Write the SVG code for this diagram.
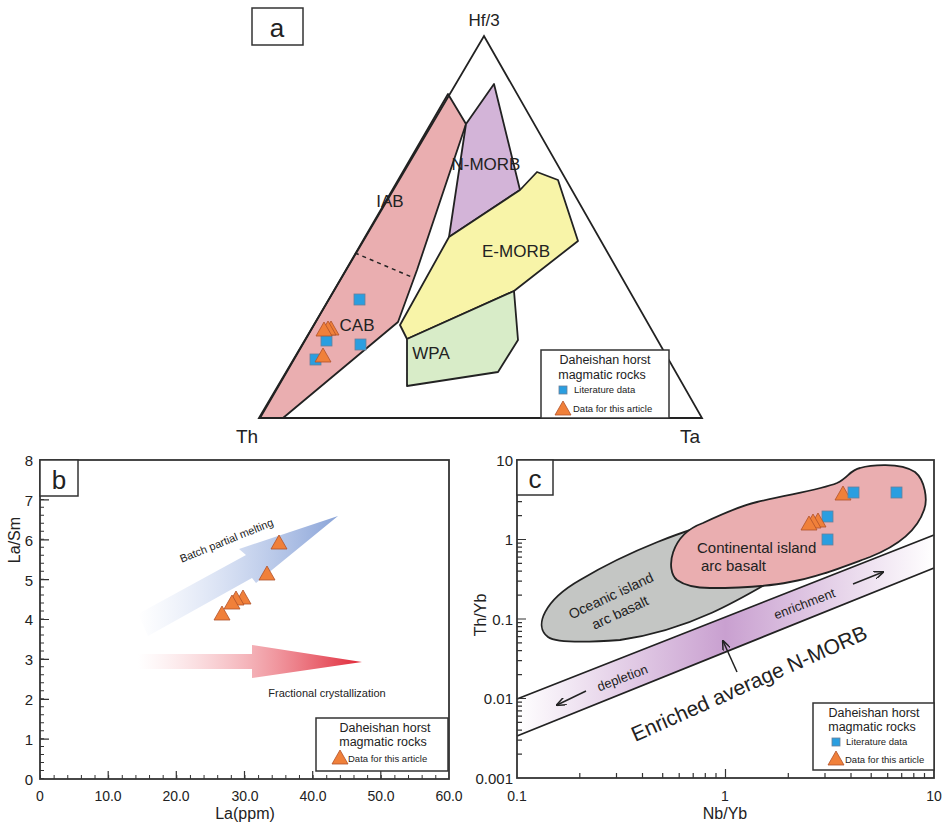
<svg xmlns="http://www.w3.org/2000/svg" width="948" height="823" viewBox="0 0 948 823">
<defs>
<style>
text{font-family:"Liberation Sans",Arial,sans-serif;fill:#222}
.reg{stroke:#222;stroke-width:1.8;stroke-linejoin:round}
.fr{fill:none;stroke:#333;stroke-width:1.8}
.sq{fill:#2a9ee0;stroke:#6a7f9a;stroke-width:0.8}
.tr{fill:#f0803a;stroke:#b0502a;stroke-width:0.8}
.lg{fill:#fff;stroke:#333;stroke-width:1.5}
.tk{stroke:#333;stroke-width:1.2;fill:none}
</style>
<linearGradient id="gb" x1="0" y1="0" x2="1" y2="0"><stop offset="0" stop-color="#b8c8ec" stop-opacity="0"/><stop offset="1" stop-color="#8aa4d8"/></linearGradient>
<linearGradient id="gr" x1="0" y1="0" x2="1" y2="0"><stop offset="0" stop-color="#f2a0a8" stop-opacity="0"/><stop offset="1" stop-color="#e02838"/></linearGradient>
<linearGradient id="gp" gradientUnits="userSpaceOnUse" x1="517" y1="0" x2="934" y2="0"><stop offset="0" stop-color="#c9a0d0" stop-opacity="0"/><stop offset="0.5" stop-color="#c9a0d0"/><stop offset="1" stop-color="#c9a0d0" stop-opacity="0"/></linearGradient>
<marker id="ah" markerWidth="10" markerHeight="8" refX="9" refY="4" orient="auto" markerUnits="userSpaceOnUse"><path d="M0,0 L10,4 L0,8" fill="none" stroke="#222" stroke-width="1.5"/></marker>
<symbol id="tri" overflow="visible"><path d="M0,-8 L8,6 L-8,6 Z"/></symbol>
</defs>
<rect width="948" height="823" fill="#fff"/>

<!-- Panel a -->
<g id="panel-a">
<rect x="252" y="8" width="51" height="37" class="lg"/>
<text x="277" y="37" font-size="26" text-anchor="middle">a</text>
<text x="484" y="26" font-size="17" text-anchor="middle">Hf/3</text>
<text x="247" y="443" font-size="19" text-anchor="middle">Th</text>
<text x="690" y="443" font-size="19" text-anchor="middle">Ta</text>
<g id="IAB-CAB"><path class="reg" fill="#eaaeb0" d="M260,418 L448,94 L466,124 L417,270 L398,322 L283,418 Z"/>
<line x1="355" y1="253" x2="414" y2="278" stroke="#222" stroke-width="1.5" stroke-dasharray="4,4"/>
<text x="390" y="207" font-size="17" text-anchor="middle">IAB</text>
<text x="357" y="331" font-size="17" text-anchor="middle">CAB</text></g>
<g id="N-MORB"><path class="reg" fill="#d3b4d8" d="M466,124 L494,84 L520,190 L449,237 Z"/>
<text x="486" y="170" font-size="17" text-anchor="middle">N-MORB</text></g>
<g id="E-MORB"><path class="reg" fill="#f8f4a8" d="M449,237 L520,190 L537,172 L558,180 L578,241 L514,291 L407,339 L400,325 Z"/>
<text x="516" y="257" font-size="17" text-anchor="middle">E-MORB</text></g>
<g id="WPA"><path class="reg" fill="#d8ecc8" d="M407,339 L514,291 L518,340 L498,372 L407,386 Z"/>
<text x="431" y="359" font-size="17" text-anchor="middle">WPA</text></g>
<path d="M259,418 L484,36 L702,418 Z" fill="none" stroke="#222" stroke-width="1.8"/>
<g id="data-a">
<rect x="354" y="294" width="11" height="11" class="sq"/>
<rect x="321" y="335" width="11" height="11" class="sq"/>
<rect x="355" y="339" width="11" height="11" class="sq"/>
<rect x="310" y="354" width="11" height="11" class="sq"/>
<use href="#tri" x="331" y="329" class="tr"/><use href="#tri" x="328" y="329" class="tr"/><use href="#tri" x="324" y="330" class="tr"/>
<use href="#tri" x="323" y="356" class="tr"/>
</g>
<g id="legend-a"><rect x="541" y="350" width="128" height="68" class="lg"/>
<text x="605" y="364" font-size="12.5" text-anchor="middle">Daheishan horst</text>
<text x="602" y="379" font-size="12.5" text-anchor="middle">magmatic rocks</text>
<rect x="559" y="386" width="8" height="8" class="sq" fill="#5ab4e8"/>
<text x="574" y="393" font-size="9.5">Literature data</text>
<use href="#tri" x="563" y="409" class="tr"/>
<text x="573" y="412" font-size="9.5">Data for this article</text></g>
</g>

<!-- Panel b -->
<g id="panel-b">
<rect x="40" y="460" width="409" height="319" class="fr"/>
<line x1="42" y1="779" x2="42" y2="460" stroke="#333" stroke-width="4" stroke-dasharray="1 6.975"/>
<line x1="40" y1="777" x2="449" y2="777" stroke="#333" stroke-width="4" stroke-dasharray="1 12.63"/>
<path class="tk" d="M40,739.1h9M40,699.3h9M40,659.4h9M40,619.5h9M40,579.6h9M40,539.8h9M40,499.9h9M108.2,779v-8M176.3,779v-8M244.5,779v-8M312.7,779v-8M380.8,779v-8"/>
<rect x="40" y="460" width="38" height="36" class="lg"/>
<text x="59" y="489" font-size="26" text-anchor="middle">b</text>
<g font-size="15" text-anchor="end"><text x="33" y="785">0</text><text x="33" y="745">1</text><text x="33" y="705">2</text><text x="33" y="665">3</text><text x="33" y="625">4</text><text x="33" y="586">5</text><text x="33" y="546">6</text><text x="33" y="506">7</text><text x="33" y="466">8</text></g>
<g font-size="14" text-anchor="middle"><text x="40" y="801">0</text><text x="108" y="801">10.0</text><text x="176" y="801">20.0</text><text x="245" y="801">30.0</text><text x="313" y="801">40.0</text><text x="381" y="801">50.0</text><text x="449" y="801">60.0</text></g>
<text x="245" y="819" font-size="16" text-anchor="middle">La(ppm)</text>
<text transform="translate(20,540) rotate(-90)" font-size="16" text-anchor="middle">La/Sm</text>
<path d="M138,614 L246,555 L239,549 L338,516 L256,583 L252,578 L148,636 Z" fill="url(#gb)"/>
<path d="M138,654 L252,654 L252,645 L362,662 L252,678 L252,669 L138,669 Z" fill="url(#gr)"/>
<text transform="translate(228,544) rotate(-22)" font-size="11" text-anchor="middle">Batch partial melting</text>
<text x="327" y="697" font-size="11" text-anchor="middle">Fractional crystallization</text>
<g id="data-b">
<use href="#tri" x="279" y="543" class="tr"/><use href="#tri" x="267" y="574" class="tr"/><use href="#tri" x="243" y="598" class="tr"/><use href="#tri" x="236" y="599" class="tr"/><use href="#tri" x="232" y="603" class="tr"/><use href="#tri" x="222" y="614" class="tr"/>
</g>
<g id="legend-b"><rect x="316" y="718" width="132" height="53" class="lg"/>
<text x="385" y="732" font-size="12.5" text-anchor="middle">Daheishan horst</text>
<text x="383" y="746" font-size="12.5" text-anchor="middle">magmatic rocks</text>
<use href="#tri" x="340" y="758" class="tr"/>
<text x="348" y="762" font-size="9.5">Data for this article</text></g>
</g>

<!-- Panel c -->
<g id="panel-c">
<g id="oceanic"><path class="reg" fill="#c4c6c4" d="M548,637 C533,626 545,600 580,580 C630,550 690,528 720,522 L790,570 C740,600 690,630 620,640 C580,643 555,642 548,637 Z"/></g>
<g id="continental"><path class="reg" fill="#eaaeb0" d="M677,580 C665,570 670,535 703,523 C720,515 740,506 757,502 C790,494 820,490 837,483 C848,478 850,470 860,468 C870,465 900,462 915,472 C925,480 928,500 924,510 C918,528 900,545 870,557 C840,568 815,578 790,582 C770,586 740,588 710,588 C695,588 684,585 677,580 Z"/></g>
<path d="M517,699 L934,535 L934,568 L517,736 Z" fill="url(#gp)"/>
<path d="M517,699 L934,535 M517,736 L934,568" stroke="#222" stroke-width="1.8" fill="none"/>
<rect x="517" y="460" width="417" height="318" class="fr"/>
<path class="tk" d="M579.8,778v-5M616.5,778v-5M642.5,778v-5M662.7,778v-5M679.2,778v-5M693.2,778v-5M705.3,778v-5M716,778v-5M725.5,778v-9M788.3,778v-5M825,778v-5M851,778v-5M871.2,778v-5M887.7,778v-5M901.7,778v-5M913.8,778v-5M924.5,778v-5
M517,754.1h5M517,740.1h5M517,730.1h5M517,722.4h5M517,716.1h5M517,710.8h5M517,706.2h5M517,702.1h5M517,698.5h9
M517,674.6h5M517,660.6h5M517,650.6h5M517,642.9h5M517,636.6h5M517,631.3h5M517,626.7h5M517,622.6h5M517,619h9
M517,595.1h5M517,581.1h5M517,571.1h5M517,563.4h5M517,557.1h5M517,551.8h5M517,547.2h5M517,543.1h5M517,539.5h9
M517,515.6h5M517,501.6h5M517,491.6h5M517,483.9h5M517,477.6h5M517,472.3h5M517,467.7h5M517,463.6h5"/>
<rect x="517" y="460" width="36" height="35" class="lg"/>
<text x="535" y="488" font-size="26" text-anchor="middle">c</text>
<g font-size="15" text-anchor="end"><text x="513" y="466">10</text><text x="513" y="545">1</text><text x="513" y="625">0.1</text><text x="513" y="704">0.01</text><text x="513" y="784">0.001</text></g>
<g font-size="14" text-anchor="middle"><text x="517" y="801">0.1</text><text x="725" y="801">1</text><text x="934" y="801">10</text></g>
<text x="725" y="819" font-size="16" text-anchor="middle">Nb/Yb</text>
<text transform="translate(486,615) rotate(-90)" font-size="16" text-anchor="middle">Th/Yb</text>
<text x="697" y="553" font-size="15">Continental island</text>
<text x="701" y="571" font-size="15">arc basalt</text>
<text transform="translate(613,600) rotate(-25)" font-size="14" text-anchor="middle">Oceanic island</text>
<text transform="translate(622,617) rotate(-25)" font-size="14" text-anchor="middle">arc basalt</text>
<text transform="translate(624,682) rotate(-21)" font-size="13" text-anchor="middle">depletion</text>
<text transform="translate(806,608) rotate(-21)" font-size="13" text-anchor="middle">enrichment</text>
<text transform="translate(752,690) rotate(-24)" font-size="21" text-anchor="middle">Enriched  average N-MORB</text>
<g id="connectors">
<line x1="586" y1="691" x2="557" y2="705" stroke="#222" stroke-width="1.5" marker-end="url(#ah)"/>
<line x1="853" y1="584" x2="883" y2="572" stroke="#222" stroke-width="1.5" marker-end="url(#ah)"/>
<line x1="737" y1="672" x2="723" y2="641" stroke="#222" stroke-width="1.5" marker-end="url(#ah)"/>
</g>
<g id="data-c">
<use href="#tri" x="843" y="494" class="tr"/>
<rect x="848" y="487" width="11" height="11" class="sq"/>
<rect x="891" y="487" width="11" height="11" class="sq"/>
<rect x="822" y="511" width="11" height="11" class="sq"/>
<rect x="822" y="534" width="11" height="11" class="sq"/>
<use href="#tri" x="818" y="521" class="tr"/><use href="#tri" x="813" y="522" class="tr"/><use href="#tri" x="809" y="524" class="tr"/>
</g>
<g id="legend-c"><rect x="813" y="703" width="121" height="67" class="lg"/>
<text x="874" y="717" font-size="12.5" text-anchor="middle">Daheishan horst</text>
<text x="872" y="731" font-size="12.5" text-anchor="middle">magmatic rocks</text>
<rect x="832" y="738" width="8" height="8" class="sq" fill="#5ab4e8"/>
<text x="846" y="745" font-size="9.5">Literature data</text>
<use href="#tri" x="836" y="759" class="tr"/>
<text x="845" y="763" font-size="9.5">Data for this article</text></g>
</g>
</svg>
